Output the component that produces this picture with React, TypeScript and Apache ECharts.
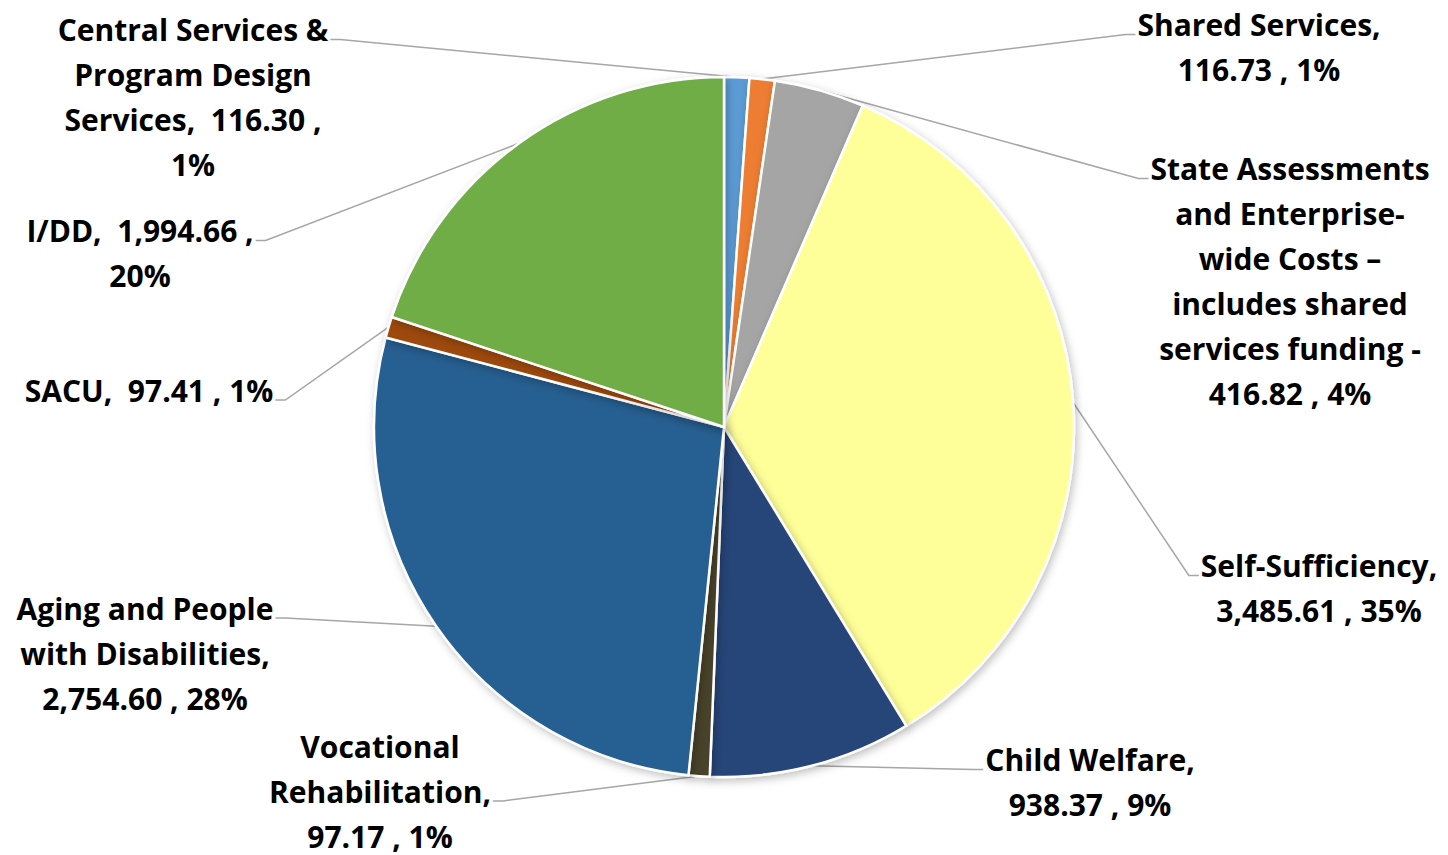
import React, { useEffect, useRef } from "react";
import * as echarts from "echarts";

const categories = [
  "Central Services & Program Design Services",
  "Shared Services",
  "State Assessments and Enterprise-wide Costs – includes shared services funding -",
  "Self-Sufficiency",
  "Child Welfare",
  "Vocational Rehabilitation",
  "Aging and People with Disabilities",
  "SACU",
  "I/DD",
];

const values = [116.3, 116.73, 416.82, 3485.61, 938.37, 97.17, 2754.6, 97.41, 1994.66];

const labelTemplates = [
  "Central Services &\nProgram Design\nServices,  {v} ,\n{p}",
  "Shared Services,\n{v} , {p}",
  "State Assessments\nand Enterprise-\nwide Costs –\nincludes shared\nservices funding -\n{v} , {p}",
  "Self-Sufficiency,\n{v} , {p}",
  "Child Welfare,\n{v} , {p}",
  "Vocational\nRehabilitation,\n{v} , {p}",
  "Aging and People\nwith Disabilities,\n{v} , {p}",
  "SACU,  {v} , {p}",
  "I/DD,  {v} ,\n{p}",
];

const colors = [
  "#5B9BD5",
  "#ED7D31",
  "#A5A5A5",
  "#FFFF99",
  "#264478",
  "#4A432A",
  "#255E91",
  "#9E480E",
  "#70AD47",
];

// label layout (not data): block centres and which text line the leader attaches to
const labelCenters: [number, number][] = [
  [193, 97],
  [1259, 47],
  [1290, 281],
  [1319, 588],
  [1090, 782],
  [380, 791],
  [145, 653],
  [149, 390],
  [140, 253],
];
const anchorLine = [0, 0, 0, 0, 0, 1, 0, 0, 0];
const LINE_H = 45;
const STUB = 10;

export default function App() {
  const ref = useRef<HTMLDivElement>(null);
  useEffect(() => {
    document.body.style.margin = "0";
    const chart = echarts.init(ref.current!, null, { renderer: "svg" });
    chart.setOption({
      animation: false,
      backgroundColor: "#ffffff",
      series: [
        {
          type: "pie",
          center: [724, 427],
          radius: 350,
          startAngle: 90,
          clockwise: true,
          percentPrecision: 0,
          avoidLabelOverlap: false,
          data: categories.map((name, i) => ({
            name,
            value: values[i],
            itemStyle: { color: colors[i] },
          })),
          itemStyle: {
            borderColor: "#ffffff",
            borderWidth: 2.5,
            shadowBlur: 8,
            shadowColor: "rgba(0,0,0,0.25)",
            shadowOffsetX: 2,
            shadowOffsetY: 3,
          },
          label: {
            show: true,
            position: "outside",
            fontFamily: "Open Sans",
            fontWeight: "bold",
            fontSize: 30,
            lineHeight: LINE_H,
            color: "#000000",
            align: "center",
            formatter: (p: any) =>
              labelTemplates[p.dataIndex]
                .replace(
                  "{v}",
                  Number(p.value).toLocaleString("en-US", {
                    minimumFractionDigits: 2,
                    maximumFractionDigits: 2,
                  })
                )
                .replace("{p}", p.percent + "%"),
          },
          labelLine: {
            show: true,
            length: 20,
            length2: 20,
            smooth: false,
            lineStyle: { color: "#A6A6A6", width: 1.5 },
          },
          labelLayout: (params: any) => {
            const i = params.dataIndex;
            const c = labelCenters[i];
            const w = params.labelRect.width;
            const h = params.labelRect.height;
            const start = params.labelLinePoints
              ? params.labelLinePoints[0]
              : [724, 427];
            const isRight = c[0] > 724;
            const ax = isRight ? c[0] - w / 2 - 2 : c[0] + w / 2 + 2;
            const ay = c[1] - h / 2 + (anchorLine[i] + 0.5) * LINE_H + 10;
            const mx = isRight ? ax - STUB : ax + STUB;
            return {
              x: c[0],
              y: c[1],
              align: "center",
              verticalAlign: "middle",
              labelLinePoints: [
                [start[0], start[1]],
                [mx, ay],
                [ax, ay],
              ],
            };
          },
          emphasis: { disabled: true },
        },
      ],
    });
    return () => chart.dispose();
  }, []);
  return <div ref={ref} style={{ width: 1448, height: 855 }} />;
}
